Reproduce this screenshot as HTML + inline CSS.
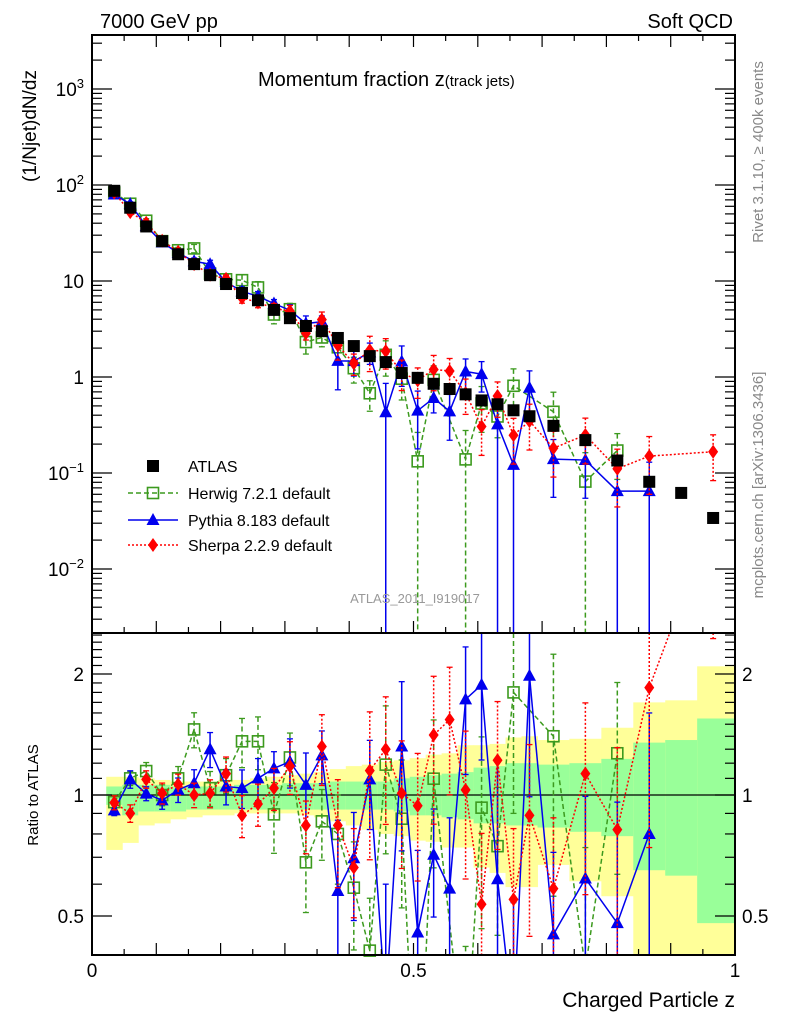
<!DOCTYPE html>
<html><head><meta charset="utf-8"><style>
html,body{margin:0;padding:0;background:#fff;width:786px;height:1024px;overflow:hidden;}
svg{display:block;font-family:"Liberation Sans",sans-serif;}
script{display:none;}
</style></head><body>
<svg id="chart" width="786" height="1024" viewBox="0 0 786 1024" xmlns="http://www.w3.org/2000/svg">
<rect x="0" y="0" width="786" height="1024" fill="#fff"/>
<g id="bands"></g>
<g id="grid"></g>
<g id="marks"></g>
<g id="axes"></g>
<text x="100" y="28" font-size="20">7000 GeV pp</text>
<text x="733" y="28" font-size="20" text-anchor="end">Soft QCD</text>
<text x="258" y="86" font-size="20">Momentum fraction z<tspan font-size="15">(track jets)</tspan></text>
<text transform="translate(36,126) rotate(-90)" font-size="19" text-anchor="middle">(1/Njet)dN/dz</text>
<text transform="translate(38,795) rotate(-90)" font-size="15" text-anchor="middle">Ratio to ATLAS</text>
<text x="735" y="1007" font-size="21" text-anchor="end">Charged Particle z</text>
<text transform="translate(763,152) rotate(-90)" font-size="15" fill="#888" text-anchor="middle">Rivet 3.1.10, ≥ 400k events</text>
<text transform="translate(763,485) rotate(-90)" font-size="15" fill="#888" text-anchor="middle">mcplots.cern.ch [arXiv:1306.3436]</text>
<text x="415" y="603" font-size="13" fill="#999" text-anchor="middle">ATLAS_2011_I919017</text>
<g id="legend"></g>
</svg>
<script>
const binLo = [0.025,0.05,0.075,0.1,0.125,0.15,0.175,0.2,0.225,0.25,0.275,0.3,0.325,0.35,0.375,0.4,0.425,0.45,0.475,0.5,0.525,0.55,0.575,0.6,0.625,0.65,0.675,0.7,0.75,0.8,0.85,0.9,0.95];
const binHi = [0.05,0.075,0.1,0.125,0.15,0.175,0.2,0.225,0.25,0.275,0.3,0.325,0.35,0.375,0.4,0.425,0.45,0.475,0.5,0.525,0.55,0.575,0.6,0.625,0.65,0.675,0.7,0.75,0.8,0.85,0.9,0.95,1.0];
const atlas = [87,58,37,26,19,15,11.5,9.3,7.5,6.3,5,4.1,3.4,3,2.55,2.1,1.65,1.43,1.1,0.98,0.85,0.75,0.66,0.57,0.52,0.45,0.39,0.31,0.22,0.135,0.081,0.062,0.034];
const herwigRatio = [0.96,1.10,1.147,1.0,1.10,1.456,1.04,1.12,1.36,1.36,0.895,1.24,0.68,0.86,0.80,0.588,0.41,1.19,0.873,0.135,1.098,null,0.21,0.93,0.746,1.80,null,1.40,0.37,1.27,null,null,null];
const herwigErr = [0.04,0.04,0.05,0.06,0.07,0.1,0.1,0.1,0.14,0.15,0.2,0.15,0.25,0.2,0.25,0.3,0.35,0.4,0.4,1,0.4,0.4,1,0.5,0.4,0.5,0.5,0.6,1,0.5,null,null,null];
const pythiaRatio = [0.916,1.094,1.008,0.97,1.03,1.07,1.30,1.05,1.04,1.10,1.165,1.21,1.06,1.255,0.577,0.696,1.094,0.30,1.32,0.455,0.71,0.585,1.73,1.88,0.617,0.27,1.98,0.45,0.62,0.48,0.80,null,null];
const pythiaErr = [0.03,0.05,0.04,0.05,0.07,0.08,0.1,0.1,0.11,0.12,0.1,0.14,0.2,0.15,0.5,0.3,0.25,1,0.45,0.6,0.3,0.5,0.35,0.35,1,1,0.5,0.6,0.6,1,1,null,null];
const sherpaRatio = [0.957,0.90,1.094,1.01,1.063,1.0,1.01,1.13,0.89,0.95,1.04,1.18,0.84,1.32,0.84,0.66,1.15,1.30,1.01,0.94,1.41,1.54,1.03,0.535,1.22,0.55,0.89,0.585,1.13,0.82,1.85,null,4.9];
const sherpaErr = [0.04,0.05,0.05,0.06,0.06,0.07,0.08,0.1,0.12,0.12,0.12,0.15,0.15,0.2,0.3,0.25,0.4,0.35,0.35,0.35,0.4,0.35,0.4,0.5,0.4,0.5,0.5,0.5,0.5,0.6,0.6,null,0.5];
const yellowHi = [1.11,1.11,1.10,1.09,1.08,1.08,1.08,1.09,1.09,1.10,1.11,1.12,1.13,1.14,1.16,1.18,1.19,1.21,1.22,1.235,1.26,1.27,1.33,1.33,1.34,1.39,1.40,1.37,1.38,1.47,1.70,1.72,2.09];
const yellowLo = [0.73,0.76,0.84,0.85,0.87,0.88,0.89,0.89,0.90,0.90,0.90,0.90,0.89,0.88,0.86,0.84,0.82,0.80,0.79,0.77,0.765,0.74,0.74,0.66,0.64,0.59,0.59,0.67,0.61,0.56,0.3,0.3,0.3];
const greenHi = [1.05,1.06,1.06,1.06,1.05,1.05,1.05,1.05,1.06,1.06,1.06,1.07,1.07,1.07,1.08,1.08,1.08,1.08,1.10,1.11,1.12,1.13,1.14,1.17,1.18,1.20,1.20,1.19,1.20,1.23,1.35,1.37,1.55];
const greenLo = [0.945,0.89,0.91,0.91,0.91,0.92,0.92,0.92,0.92,0.92,0.92,0.92,0.92,0.92,0.92,0.92,0.92,0.92,0.91,0.89,0.89,0.88,0.87,0.85,0.85,0.84,0.84,0.83,0.81,0.79,0.65,0.63,0.48];
const xTickMajor = [0,0.5,1];
const xTickLabels = ["0","0.5","1"];
const yDecades = [-2,-1,0,1,2,3];
const ratioTicks = [0.5,1,2];
const ratioTickLabels = ["0.5","1","2"];

const NS="http://www.w3.org/2000/svg";
const L=92,R=735,T=35,MB=633,RB=955;
const xs=z=>90.3+638.8*z;
const xa=z=>L+643*z;
const ym=v=>377-96*Math.log10(v);
const yr=r=>795-121*Math.log2(r);
const clampM=y=>Math.max(T,Math.min(MB,y));
const clampR=y=>Math.max(MB,Math.min(RB,y));
function mk(tag,attrs,parent){const e=document.createElementNS(NS,tag);for(const k in attrs)e.setAttribute(k,attrs[k]);parent.appendChild(e);return e;}
const gB=document.getElementById('bands'),gM=document.getElementById('marks'),gA=document.getElementById('axes'),gL=document.getElementById('legend');

for(let i=0;i<binLo.length;i++){
  const x0=xs(binLo[i]),x1=i===binLo.length-1?R:xs(binHi[i]);
  let a=clampR(yr(yellowHi[i])),b=clampR(yr(yellowLo[i]));
  const ry=mk('rect',{x:x0,y:a,width:x1-x0+0.5,height:b-a,fill:'#ffff99'},gB);
  
  
  a=clampR(yr(greenHi[i]));b=clampR(yr(greenLo[i]));
  const rg=mk('rect',{x:x0,y:a,width:x1-x0+0.5,height:b-a,fill:'#99ff99'},gB);
  
  
}
const one=mk('line',{x1:L,x2:R,y1:yr(1),y2:yr(1),stroke:'#000','stroke-width':1.3},gB);



const centers=binLo.map((l,i)=>(l+binHi[i])/2);

function drawSeries(name,ratio,err,color,dash,marker){
  const g=mk('g',{},gM);
  
  
  let ptsM=[],ptsR=[];
  for(let i=0;i<centers.length;i++){
    if(ratio[i]==null)continue;
    const v=ratio[i]*atlas[i];
    ptsM.push([xs(centers[i]),ym(v)]);
    ptsR.push([xs(centers[i]),yr(ratio[i])]);
  }
  const clipM=mk('g',{'clip-path':'url(#clipMain)'},g);
  const clipR=mk('g',{'clip-path':'url(#clipRatio)'},g);
  const pl=mk('polyline',{points:ptsM.map(p=>p.join(',')).join(' '),fill:'none',stroke:color,'stroke-width':1.5,'stroke-dasharray':dash},clipM);
  
  
  const pr=mk('polyline',{points:ptsR.map(p=>p.join(',')).join(' '),fill:'none',stroke:color,'stroke-width':1.5,'stroke-dasharray':dash},clipR);
  
  
  for(let i=0;i<centers.length;i++){
    if(ratio[i]==null)continue;
    const x=xs(centers[i]);const v=ratio[i]*atlas[i];const e=err[i]||0;
    const hiM=ym(v*(1+e)),loM=e>=1?MB:ym(v*(1-e));
    const eb=mk('line',{x1:x,x2:x,y1:clampM(hiM),y2:clampM(loM),stroke:color,'stroke-width':1.5,'stroke-dasharray':dash},g);
    
    
    const hiR=yr(ratio[i]*(1+e)),loR=e>=1?RB:yr(ratio[i]*(1-e));
    const er=mk('line',{x1:x,x2:x,y1:clampR(hiR),y2:clampR(loR),stroke:color,'stroke-width':1.5,'stroke-dasharray':dash},g);
    
    
    [[hiM,T,MB],[loM,T,MB],[hiR,MB,RB],[loR,MB,RB]].forEach(([yy,a,b])=>{if(yy>a&&yy<b){mk('line',{x1:x-3,x2:x+3,y1:yy,y2:yy,stroke:color,'stroke-width':1.3},g);}});
    drawMarker(g,marker,x,ym(v),color,name,T,MB);
    drawMarker(g,marker,x,yr(ratio[i]),color,name,MB,RB);
  }
}
function drawMarker(g,m,x,y,color,name,a,b){
  if(y<a||y>b)return;
  let e;
  if(m==='sq') e=mk('rect',{x:x-5.5,y:y-5.5,width:11,height:11,fill:'none',stroke:color,'stroke-width':1.6},g);
  else if(m==='tri') e=mk('polygon',{points:`${x},${y-7} ${x-6.5},${y+5} ${x+6.5},${y+5}`,fill:color},g);
  else if(m==='dia') e=mk('polygon',{points:`${x},${y-7} ${x-5},${y} ${x},${y+7} ${x+5},${y}`,fill:color},g);
  else e=mk('rect',{x:x-6,y:y-6,width:12,height:12,fill:color},g);
  
  
}
const defs=mk('defs',{},document.getElementById('chart'));
const c1=mk('clipPath',{id:'clipMain'},defs);mk('rect',{x:L,y:T,width:R-L,height:MB-T},c1);
const c2=mk('clipPath',{id:'clipRatio'},defs);mk('rect',{x:L,y:MB,width:R-L,height:RB-MB},c2);

drawSeries('herwig',herwigRatio,herwigErr,'#3c9a1e','5,3','sq');
drawSeries('pythia',pythiaRatio,pythiaErr,'#0000ee','','tri');
drawSeries('sherpa',sherpaRatio,sherpaErr,'#ff0000','2,2','dia');
for(let i=0;i<atlas.length;i++){
  drawMarker(gM,'data',xs(centers[i]),ym(atlas[i]),'#000','atlas',T,MB);
}

const f1=mk('rect',{x:L,y:T,width:R-L,height:MB-T,fill:'none',stroke:'#000','stroke-width':2},gA);


const f2=mk('rect',{x:L,y:MB,width:R-L,height:RB-MB,fill:'none',stroke:'#000','stroke-width':2},gA);


function tl(x1,y1,x2,y2){mk('line',{x1,y1,x2,y2,stroke:'#000','stroke-width':1.2},gA);}
for(const d of yDecades.concat([-3])){
  for(let m=1;m<10;m++){
    const y=ym(m*Math.pow(10,d)); if(y<T||y>MB)continue;
    const len=m===1?20:10; tl(L,y,L+len,y); tl(R,y,R-len,y);
  }
}
yDecades.forEach(d=>{
  const y=ym(Math.pow(10,d));
  const t=mk('text',{x:84,y:y+7,'font-size':19,'text-anchor':'end'},gA);
  
  
  if(d===0)t.textContent='1';else if(d===1)t.textContent='10';
  else{t.textContent='10';const s=mk('tspan',{dy:-8,'font-size':13},t);s.textContent=String(d).replace('-','−');}
});
for(let r=0.4;r<=2.5001;r+=0.1){
  const y=yr(r);if(y<MB||y>RB)continue;
  const maj=[0.5,1,2].some(v=>Math.abs(v-r)<1e-6);const len=maj?20:10;
  tl(L,y,L+len,y);tl(R,y,R-len,y);
}
ratioTicks.forEach((r,i)=>{
  const y=yr(r);
  const t=mk('text',{x:84,y:y+7,'font-size':19,'text-anchor':'end'},gA);t.textContent=ratioTickLabels[i];
  
  
  const t2=mk('text',{x:742,y:y+7,'font-size':19},gA);t2.textContent=ratioTickLabels[i];
  
  
});
for(let k=1;k<20;k++){
  const x=xa(k*0.05);const maj=k%2===0;const len=maj?12:6;
  tl(x,T,x,T+len);tl(x,MB,x,MB-len);tl(x,RB,x,RB-len);
}
xTickMajor.forEach((z,i)=>{
  const t=mk('text',{x:xa(z),y:977,'font-size':19,'text-anchor':'middle'},gA);t.textContent=xTickLabels[i];
  
  
});

const leg=[['ATLAS','data','#000',''],['Herwig 7.2.1 default','sq','#3c9a1e','5,3'],['Pythia 8.183 default','tri','#0000ee',''],['Sherpa 2.2.9 default','dia','#ff0000','2,2']];
const legY=[466,493,520,545];
leg.forEach((e,i)=>{
  const y=legY[i];
  const g=mk('g',{},gL);
  
  
  if(e[1]!=='data'){mk('line',{x1:128,x2:178,y1:y,y2:y,stroke:e[2],'stroke-width':1.5,'stroke-dasharray':e[3]},g);}
  drawMarker(g,e[1],153,y,e[2],'legend',0,1024);
  const t=mk('text',{x:188,y:y+6,'font-size':16},g);t.textContent=e[0];
});
</script>
</body></html>
